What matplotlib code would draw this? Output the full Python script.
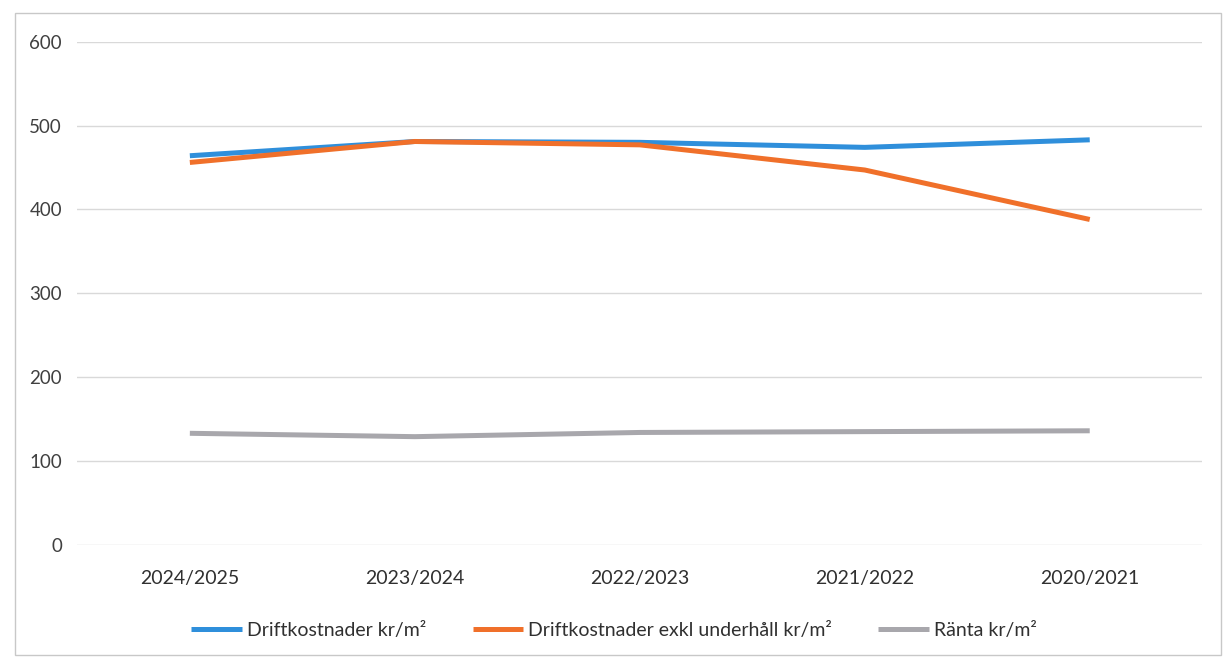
import matplotlib.pyplot as plt
from matplotlib.patches import Rectangle

plt.rcParams['font.family'] = ['Lato', 'DejaVu Sans']

# years on x, in the order shown
years = ['2024/2025', '2023/2024', '2022/2023', '2021/2022', '2020/2021']
drift = [464, 481, 480, 474, 483]
drift_exkl = [456, 481, 477, 447, 388]
ranta = [133, 129, 134, 135, 136]

fig = plt.figure(figsize=(12.28, 6.62), dpi=100)
ax = fig.add_axes([0.063, 0.177, 0.916, 0.76])

x = range(len(years))
ax.plot(x, drift, color='#2F8FDB', lw=3.6, label='Driftkostnader kr/m²', solid_capstyle='butt')
ax.plot(x, drift_exkl, color='#F0702A', lw=3.6, label='Driftkostnader exkl underhåll kr/m²', solid_capstyle='butt')
ax.plot(x, ranta, color='#A8A7AC', lw=3.6, label='Ränta kr/m²', solid_capstyle='butt')

ax.set_xlim(-0.5, len(years) - 0.5)
ax.set_ylim(0, 600)
ax.set_yticks(range(0, 601, 100))
ax.set_xticks(list(x))
ax.set_xticklabels(years)
ax.grid(axis='y', color='#D9D9D9', lw=1)
ax.set_axisbelow(True)
for s in ax.spines.values():
    s.set_visible(False)
ax.tick_params(axis='y', length=0, pad=11, labelsize=13.5, labelcolor='#404040')
ax.tick_params(axis='x', length=0, pad=18, labelsize=14, labelcolor='#303030')

fig.legend(loc='center', bbox_to_anchor=(0.5, 0.048), ncol=3, frameon=False,
           fontsize=14, handlelength=2.6, columnspacing=2.4, handletextpad=0.25,
           labelcolor='#303030')

# outer chart border
fig.patches.append(Rectangle((0.012, 0.01), 0.982, 0.97, transform=fig.transFigure,
                             fill=False, edgecolor='#C8C8C8', lw=1))

fig.savefig('out.png', dpi=100)
